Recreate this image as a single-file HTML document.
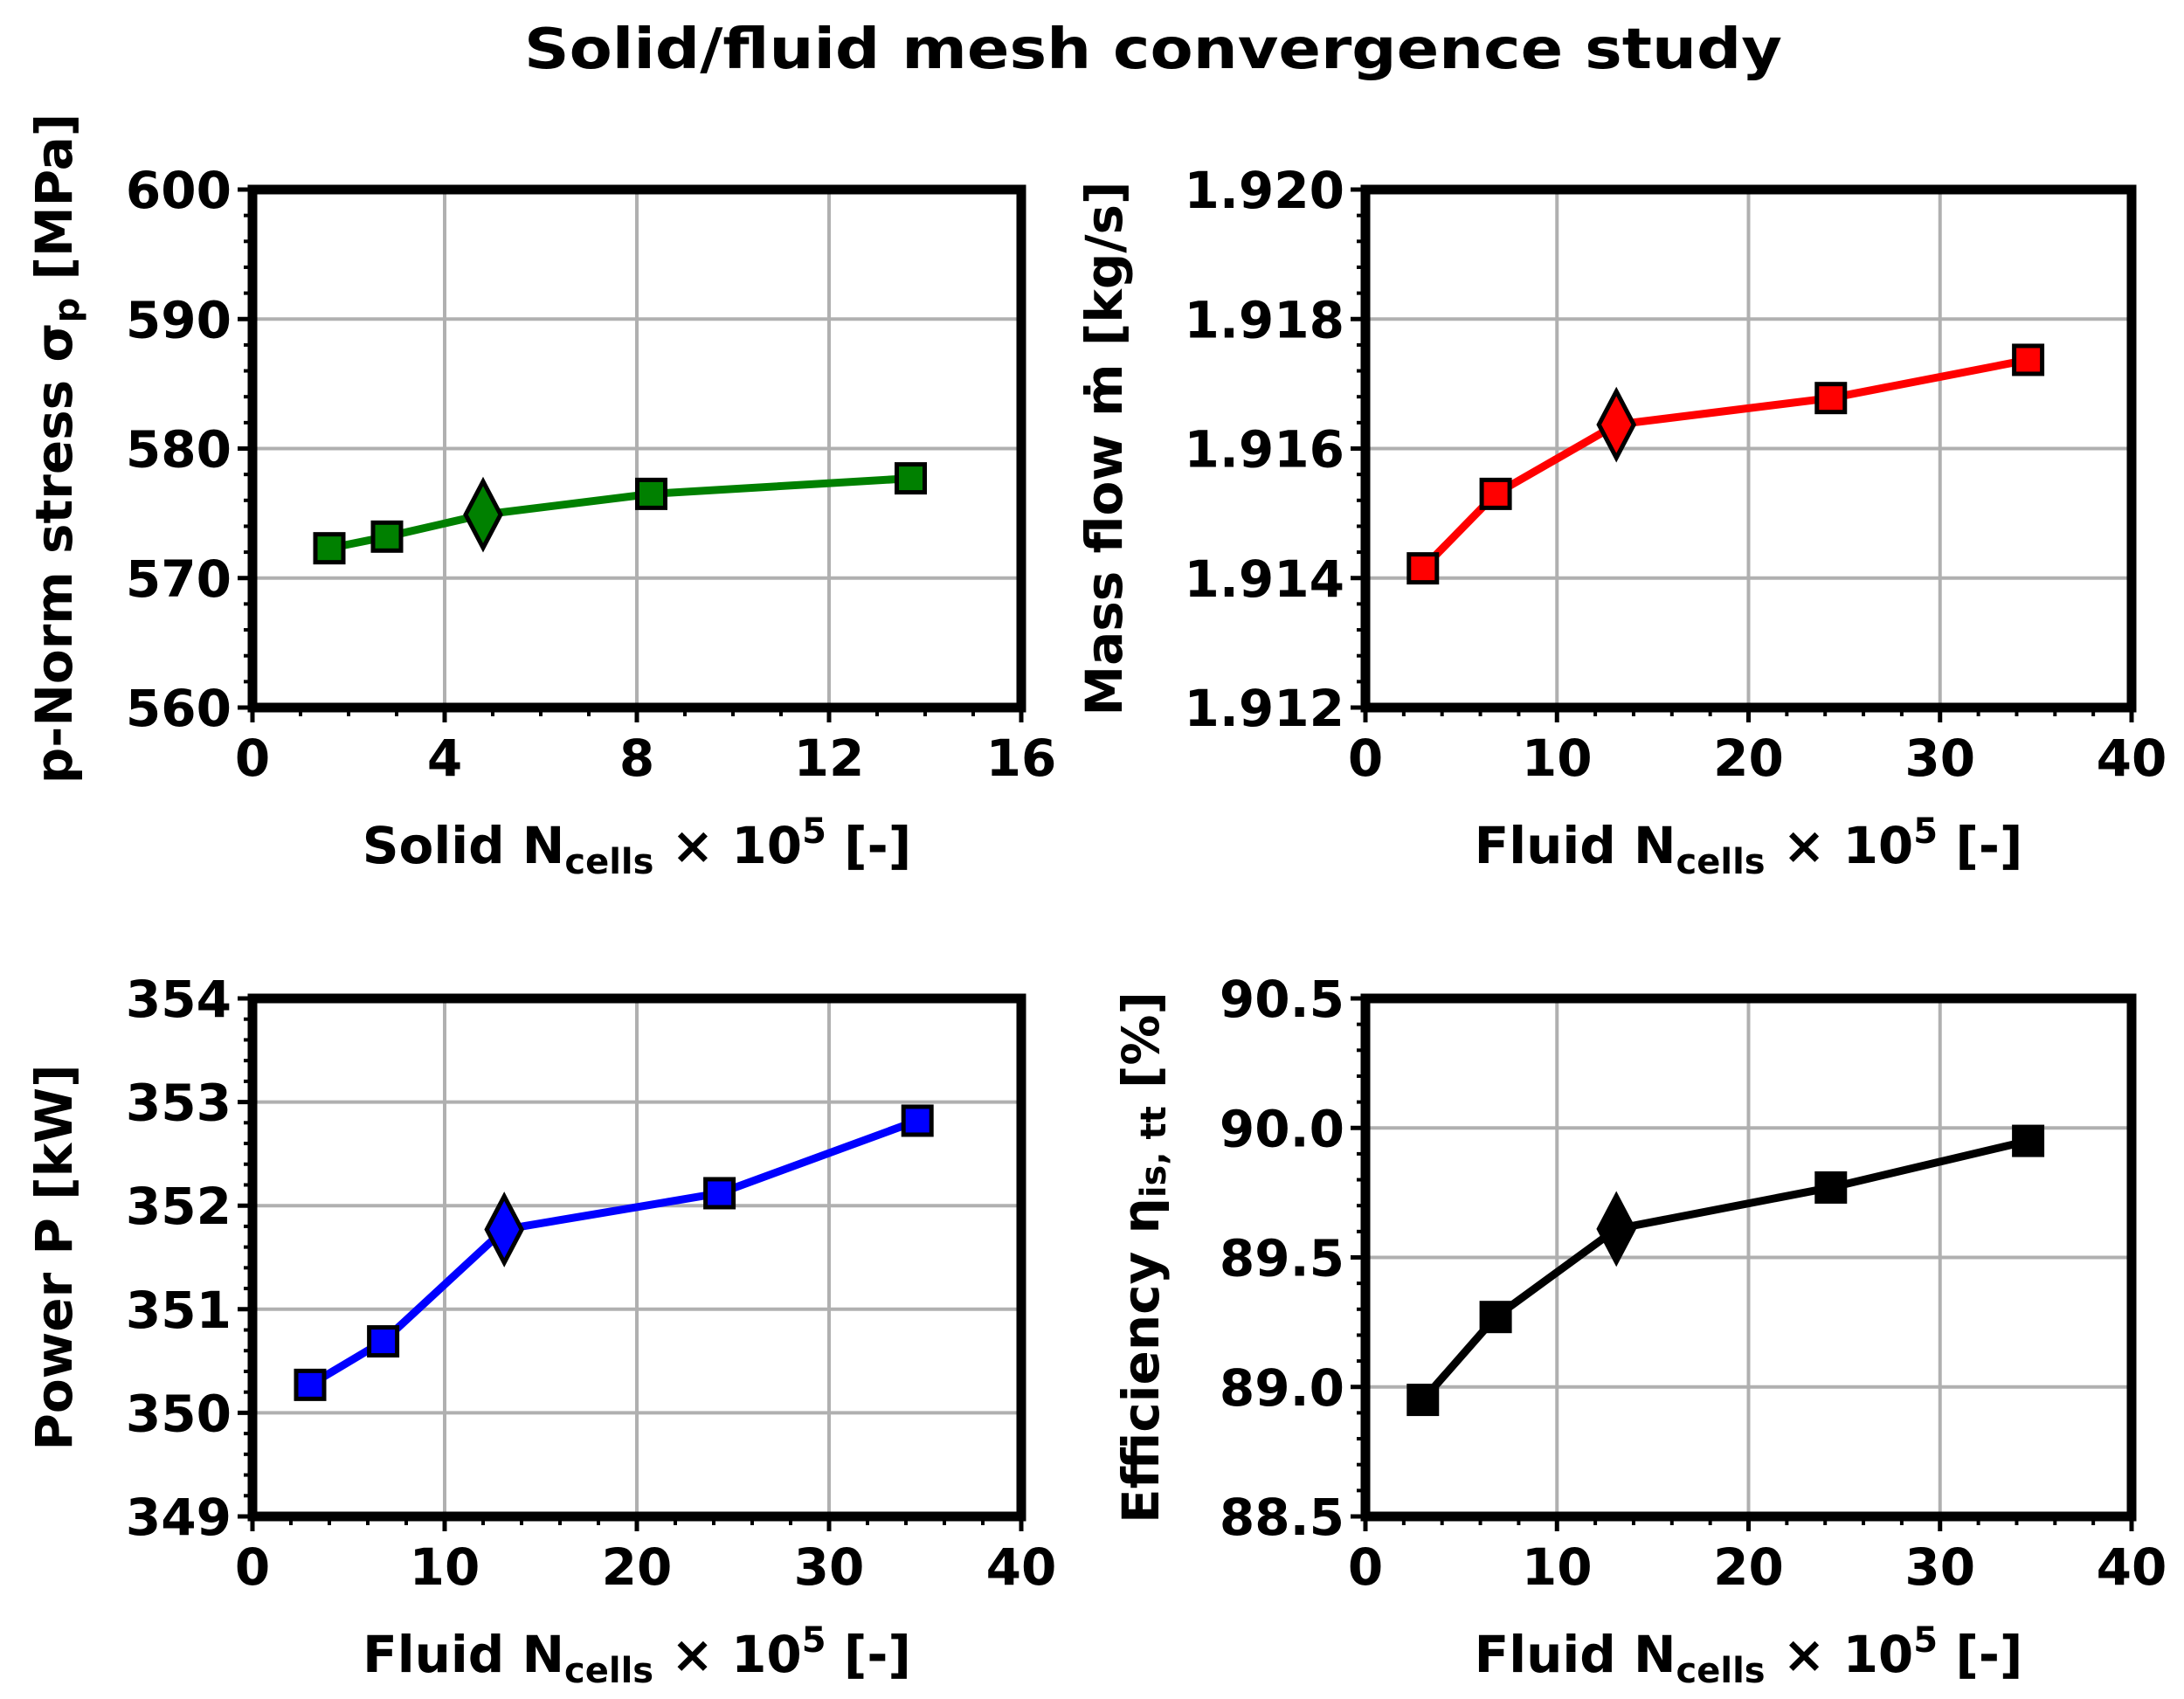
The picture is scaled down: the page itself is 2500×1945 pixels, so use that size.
<!DOCTYPE html>
<html><head><meta charset="utf-8"><style>
html,body{margin:0;padding:0;background:#fff;}
svg{display:block;}
text{font-family:"DejaVu Sans","Liberation Sans",sans-serif;font-weight:bold;fill:#000;}
</style></head><body>
<svg id="fig" width="2500" height="1945" viewBox="0 0 2500 1945" xmlns="http://www.w3.org/2000/svg">
<text x="1320" y="78" font-size="64" text-anchor="middle" textLength="1440" lengthAdjust="spacingAndGlyphs">Solid/fluid mesh convergence study</text>
</svg>
<script>
// Panel data
const solidX = [1.6, 2.8, 4.8, 8.3, 13.7];
const stressY = [572.3, 573.2, 574.9, 576.5, 577.7];
const fluidX = [3.0, 6.8, 13.1, 24.3, 34.6];
const massY = [1.91415, 1.9153, 1.91637, 1.91678, 1.91737];
const powerY = [350.27, 350.69, 351.77, 352.12, 352.82];
const effY = [88.95, 89.27, 89.61, 89.77, 89.95];
const selectedIndex = 2;
const solidXTicks = [0, 4, 8, 12, 16];
const fluidXTicks = [0, 10, 20, 30, 40];
const stressTicks = [560, 570, 580, 590, 600];
const massTicks = [1.912, 1.914, 1.916, 1.918, 1.920];
const powerTicks = [349, 350, 351, 352, 353, 354];
const effTicks = [88.5, 89.0, 89.5, 90.0, 90.5];

const NS = 'http://www.w3.org/2000/svg';
const svg = document.getElementById('fig');
function mk(tag, attrs, parent) {
  const e = document.createElementNS(NS, tag);
  for (const k in attrs) e.setAttribute(k, attrs[k]);
  (parent || svg).appendChild(e);
  return e;
}

function panel(cfg) {
  const g = mk('g', {});
  
  
  const L = cfg.L, R = cfg.R, T = cfg.T, B = cfg.B;
  const xs = v => L + (v - cfg.xmin) / (cfg.xmax - cfg.xmin) * (R - L);
  const ys = v => B - (v - cfg.ymin) / (cfg.ymax - cfg.ymin) * (B - T);
  cfg.xTicks.forEach(v => {
    const l = mk('line', {x1: xs(v), x2: xs(v), y1: T, y2: B, stroke: '#b0b0b0', 'stroke-width': 4}, g);
    
    
  });
  cfg.yTicks.forEach(v => {
    const l = mk('line', {x1: L, x2: R, y1: ys(v), y2: ys(v), stroke: '#b0b0b0', 'stroke-width': 4}, g);
    
    
  });
  const xStep = (cfg.xTicks[1] - cfg.xTicks[0]) / cfg.xMinor;
  for (let v = cfg.xmin; v <= cfg.xmax + 1e-9; v += xStep) {
    const t = mk('line', {x1: xs(v), x2: xs(v), y1: B, y2: B + 10, stroke: '#000', 'stroke-width': 4}, g);
    
    
  }
  const yStep = (cfg.yTicks[1] - cfg.yTicks[0]) / cfg.yMinor;
  for (let v = cfg.ymin; v <= cfg.ymax + 1e-9; v += yStep) {
    const t = mk('line', {x1: L - 10, x2: L, y1: ys(v), y2: ys(v), stroke: '#000', 'stroke-width': 4}, g);
    
    
  }
  cfg.xTicks.forEach(v => {
    const t = mk('line', {x1: xs(v), x2: xs(v), y1: B, y2: B + 17, stroke: '#000', 'stroke-width': 5}, g);
    
    
    const tx = mk('text', {x: xs(v), y: B + 78, 'font-size': 58, 'text-anchor': 'middle'}, g);
    
    
    tx.textContent = String(v);
  });
  cfg.yTicks.forEach(v => {
    const t = mk('line', {x1: L - 17, x2: L, y1: ys(v), y2: ys(v), stroke: '#000', 'stroke-width': 5}, g);
    
    
    const tx = mk('text', {x: L - 24, y: ys(v) + 21, 'font-size': 58, 'text-anchor': 'end'}, g);
    
    
    tx.textContent = v.toFixed(cfg.yDec);
  });
  const pts = cfg.x.map((v, i) => xs(v) + ',' + ys(cfg.y[i])).join(' ');
  const pl = mk('polyline', {points: pts, fill: 'none', stroke: cfg.color, 'stroke-width': 9, 'stroke-linejoin': 'round'}, g);
  
  
  cfg.x.forEach((v, i) => {
    const cx = xs(v), cy = ys(cfg.y[i]);
    if (i === selectedIndex) {
      const d = mk('polygon', {points: `${cx},${cy - 38} ${cx + 20},${cy} ${cx},${cy + 38} ${cx - 20},${cy}`, fill: cfg.color, stroke: '#000', 'stroke-width': 5}, g);
      
      
    } else {
      const s = mk('rect', {x: cx - 16, y: cy - 16, width: 32, height: 32, fill: cfg.color, stroke: '#000', 'stroke-width': 5}, g);
      
      
    }
  });
  const fr = mk('rect', {x: L, y: T, width: R - L, height: B - T, fill: 'none', stroke: '#000', 'stroke-width': 11}, g);
  
  
  const xl = mk('text', {x: (L + R) / 2, y: B + 178, 'font-size': 58, 'text-anchor': 'middle'}, g);
  
  
  xl.innerHTML = cfg.xlabelPre + ' N<tspan font-size="40" dy="12">cells</tspan><tspan dy="-12"> × 10</tspan><tspan font-size="40" dy="-23">5</tspan><tspan dy="23"> [-]</tspan>';
  const yc = (T + B) / 2;
  const yl = mk('text', {x: cfg.ylx, y: yc, 'font-size': 58, 'text-anchor': 'middle', transform: `rotate(-90 ${cfg.ylx} ${yc})`}, g);
  
  
  yl.innerHTML = cfg.ylabel;
}

panel({name: 'stress-panel', L: 289, R: 1169, T: 217, B: 810, xmin: 0, xmax: 16, ymin: 560, ymax: 600,
  xTicks: solidXTicks, yTicks: stressTicks, xMinor: 4, yMinor: 5, yDec: 0, x: solidX, y: stressY, color: '#008000',
  xlabelPre: 'Solid', ylx: 82, ylabel: 'p-Norm stress σ<tspan font-size="40" dy="8">p</tspan><tspan dy="-8"> [MPa]</tspan>'});
panel({name: 'mass-flow-panel', L: 1563, R: 2440, T: 217, B: 810, xmin: 0, xmax: 40, ymin: 1.912, ymax: 1.920,
  xTicks: fluidXTicks, yTicks: massTicks, xMinor: 5, yMinor: 5, yDec: 3, x: fluidX, y: massY, color: '#ff0000',
  xlabelPre: 'Fluid', ylx: 1284, ylabel: 'Mass flow ṁ [kg/s]'});
panel({name: 'power-panel', L: 289, R: 1169, T: 1143, B: 1736, xmin: 0, xmax: 40, ymin: 349, ymax: 354,
  xTicks: fluidXTicks, yTicks: powerTicks, xMinor: 5, yMinor: 5, yDec: 0, x: fluidX, y: powerY, color: '#0000ff',
  xlabelPre: 'Fluid', ylx: 82, ylabel: 'Power P [kW]'});
panel({name: 'efficiency-panel', L: 1563, R: 2440, T: 1143, B: 1736, xmin: 0, xmax: 40, ymin: 88.5, ymax: 90.5,
  xTicks: fluidXTicks, yTicks: effTicks, xMinor: 5, yMinor: 5, yDec: 1, x: fluidX, y: effY, color: '#000000',
  xlabelPre: 'Fluid', ylx: 1326, ylabel: 'Efficiency η<tspan font-size="40" dy="8">is, tt</tspan><tspan dy="-8"> [%]</tspan>'});
</script>
</body></html>
